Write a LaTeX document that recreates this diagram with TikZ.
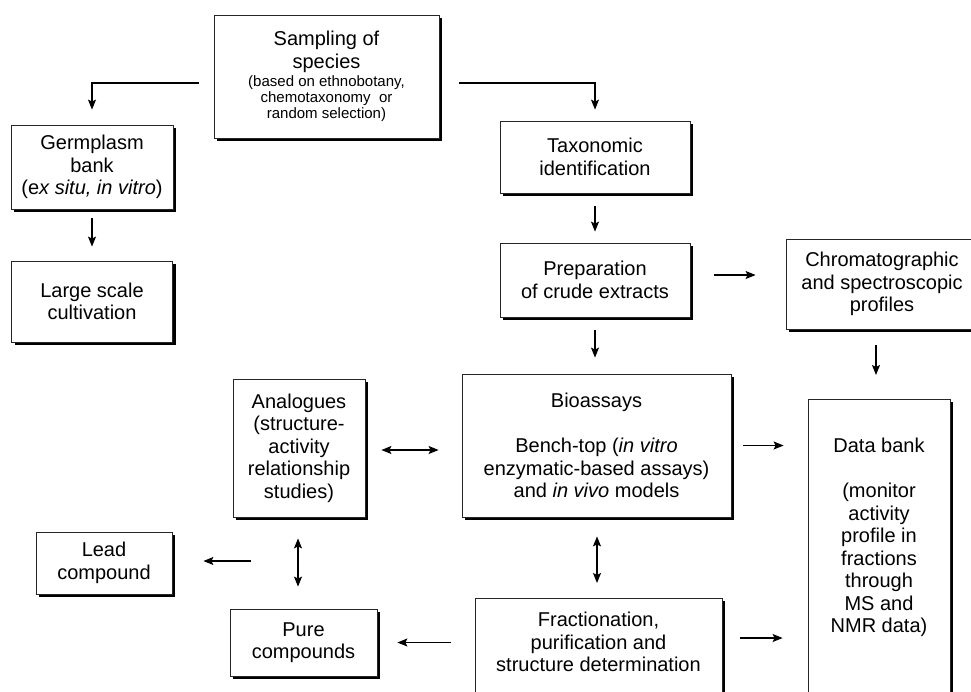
\documentclass[tikz,border=0pt]{standalone}
\usepackage{fontspec}
\setmainfont{Liberation Sans}
\usetikzlibrary{arrows.meta,positioning,shadows}
\tikzset{
  box/.style={rectangle, draw=black!85, line width=0.8pt, fill=white, align=center,
              inner sep=2pt, font=\fontsize{20}{22.5}\selectfont,
              drop shadow={shadow xshift=3pt, shadow yshift=-3pt, fill=black, opacity=1}},
  flow/.style={-{Stealth[length=10pt,width=8pt,inset=2pt]}, line width=1.2pt},
  twoway/.style={{Stealth[length=10pt,width=8pt,inset=2pt]}-{Stealth[length=10pt,width=8pt,inset=2pt]}, line width=1.2pt},
}
\newcommand{\smalltext}{\fontsize{15}{16.5}\selectfont}

\begin{document}
\begin{tikzpicture}[x=1pt, y=-1pt]
  \fill[white] (0,0) rectangle (971,691);
  \useasboundingbox (0,0) rectangle (971,691);
  \clip (0,0) rectangle (971,691);
  % boxes
  \node[box, minimum width=225pt, minimum height=123pt] (samp) at (326.5,76.5)
    {Sampling of\\species\\[-4pt]{\smalltext (based on ethnobotany,}\\[-6.5pt]{\smalltext chemotaxonomy\ \ or}\\[-6.5pt]{\smalltext random selection)}};
  \node[box, minimum width=162pt, minimum height=84pt] (germ) at (92,167) {Germplasm\\bank\\(e\textit{x situ, in vitro})};
  \node[box, minimum width=161pt, minimum height=81pt] (large) at (92,301.5) {Large scale\\cultivation};
  \node[box, minimum width=190pt, minimum height=72pt] (tax) at (595,157) {Taxonomic\\identification};
  \node[box, minimum width=190pt, minimum height=74pt] (prep) at (595,280) {Preparation\\of crude extracts};
  \node[box, minimum width=192pt, minimum height=90pt] (chrom) at (882,284) {Chromatographic\\and spectroscopic\\profiles};
  \node[box, minimum width=269pt, minimum height=143pt] (bio) at (596.5,445.5)
    {Bioassays\\[23pt]Bench-top (\textit{in vitro}\\enzymatic-based assays)\\and \textit{in vivo} models};
  \node[box, minimum width=132pt, minimum height=138pt] (ana) at (299,448) {Analogues\\(structure-\\activity\\relationship\\studies)};
  \node[box, minimum width=136pt, minimum height=62pt] (lead) at (104,563) {Lead\\compound};
  \node[box, minimum width=147pt, minimum height=67pt] (pure) at (303.5,642.5) {Pure\\compounds};
  \node[box, anchor=north, minimum width=247pt, inner ysep=14pt, text depth=100pt] (frac) at (598.5,598)
    {Fractionation,\\purification and\\structure determination};
  \node[box, anchor=north, minimum width=142pt, inner ysep=39pt, text depth=100pt] (data) at (879,399)
    {Data bank\\[22.5pt](monitor\\activity\\profile in\\fractions\\through\\MS and\\NMR data)};
  \coordinate (fork) at (251,561);
  % connectors
  \draw[flow] ([shift={(-15,6.5)}]samp.west) -| ([shift={(0,-15)}]germ.north);
  \draw[flow] ([shift={(20,6.5)}]samp.east) -| ([shift={(0,-11)}]tax.north);
  \draw[flow, shorten <=9pt, shorten >=14pt] (germ) -- (large);
  \draw[flow, shorten <=13pt, shorten >=11pt] (tax) -- (prep);
  \draw[flow] ([shift={(24,-5)}]prep.east) -- ([shift={(-30,-9)}]chrom.west);
  \draw[flow] ([shift={(0,13)}]prep.south) -- ([shift={(-1.5,-16)}]bio.north);
  \draw[flow] ([shift={(-6,16)}]chrom.south) -- ([shift={(-3,-24)}]data.north);
  \draw[twoway] ([shift={(16,2)}]ana.east) -- ([shift={(-23,4.5)}]bio.west);
  \draw[flow] ([shift={(12,0)}]bio.east) -- ([shift={(-24,46.5)}]data.north west);
  \draw[twoway] ([shift={(0.5,19)}]bio.south) -- ([shift={(-1.5,-15)}]frac.north);
  \draw[flow] ([shift={(18,40)}]frac.north east) -- ([shift={(-25,239)}]data.north west);
  \draw[flow] ([shift={(-24,44.5)}]frac.north west) -- ([shift={(20,0)}]pure.east);
  \draw[twoway] ([shift={(-1,21)}]ana.south) -- ([shift={(-5.5,-22)}]pure.north);
  \draw[flow] (fork) -- ([shift={(31,-2)}]lead.east);
\end{tikzpicture}
\end{document}
